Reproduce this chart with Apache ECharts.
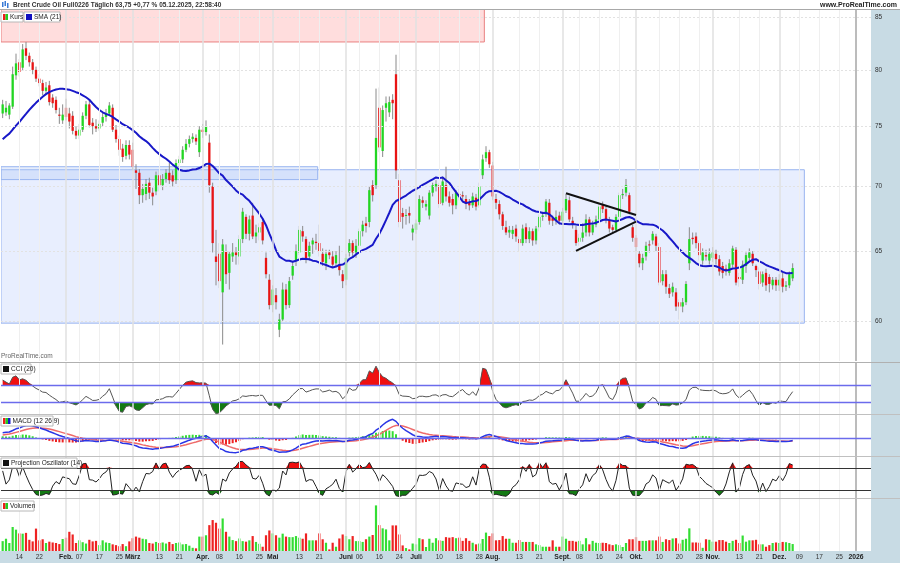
<!DOCTYPE html>
<html><head><meta charset="utf-8">
<script src="https://cdn.jsdelivr.net/npm/echarts@6/dist/echarts.min.js"></script>
<style>html,body{margin:0;padding:0;background:#fff}#c{width:900px;height:563px}</style>
</head><body><div id="c"></div><script>
// ---------- DATA ----------
const holidays = ['2025-04-18'];
const tickDates = ['2025-01-14','2025-01-22','2025-02-03','2025-02-07','2025-02-17','2025-02-25','2025-03-03','2025-03-13','2025-03-21','2025-04-01','2025-04-08','2025-04-16','2025-04-25','2025-05-01','2025-05-13','2025-05-21','2025-06-02','2025-06-06','2025-06-16','2025-06-24','2025-07-01','2025-07-10','2025-07-18','2025-07-28','2025-08-01','2025-08-13','2025-08-21','2025-09-01','2025-09-08','2025-09-16','2025-09-24','2025-10-01','2025-10-10','2025-10-20','2025-10-28','2025-11-03','2025-11-13','2025-11-21','2025-12-01','2025-12-09','2025-12-17','2025-12-25','2026-01-01'];
const tickTexts = ['14','22','Feb.','07','17','25','März','13','21','Apr.','08','16','25','Mai','13','21','Juni','06','16','24','Juli','10','18','28','Aug.','13','21','Sept.','08','16','24','Okt.','10','20','28','Nov.','13','21','Dez.','09','17','25','2026'];
// closes before the first shown day (indicator warm-up, Nov/Dec 2024)
const warmupCloses = [71.83,71.89,72.28,72.56,71.04,73.30,73.31,72.81,74.23,75.17,73.01,72.81,72.83,73.28,72.94,71.83,73.62,72.31,72.09,71.12,72.14,72.19,73.52,73.41,74.49,73.91,73.19,73.39,72.88,72.94,72.63,73.58,73.26,74.17,74.39,74.64,75.93,76.51,76.30];
const opens = [76.1,76.2,76.0,76.7,79.5,80.7,80.2,82.0,81.3,80.7,80.0,79.2,78.8,78.1,78.6,77.5,77.3,76.0,75.5,76.6,76.1,75.9,74.6,74.2,74.7,75.9,76.9,75.3,75.0,74.8,75.3,75.8,76.1,76.6,74.7,73.9,73.1,72.5,73.4,73.0,71.3,71.1,69.3,69.4,70.3,69.5,69.6,70.9,70.1,70.6,71.1,70.9,70.5,71.9,72.2,73.0,73.5,73.9,74.0,72.8,74.7,74.5,73.6,70.0,64.6,64.8,62.0,65.0,63.4,64.6,64.9,64.6,65.9,67.6,66.3,67.7,66.1,66.4,67.2,64.5,62.9,61.1,61.8,59.4,60.1,62.2,61.1,63.2,64.3,64.9,66.5,65.9,64.6,65.5,65.7,65.6,64.8,64.1,64.9,64.6,64.1,64.0,63.3,62.9,64.9,65.6,64.9,65.4,66.5,67.1,67.2,70.1,70.1,76.6,72.9,76.6,76.2,77.3,79.6,70.5,67.9,67.7,67.9,66.4,66.6,67.2,68.9,68.4,67.7,69.5,70.0,70.1,68.7,70.1,69.2,69.0,68.5,69.4,69.3,69.0,68.7,68.5,69.1,68.5,70.9,72.3,72.8,71.7,69.0,68.6,67.8,66.8,66.4,66.3,66.7,65.9,65.6,66.8,65.9,66.5,65.8,66.8,67.6,67.8,68.7,67.5,67.3,67.7,67.3,68.1,68.9,67.3,66.6,65.7,66.0,66.4,67.4,66.4,67.0,67.4,68.5,68.2,67.4,66.8,66.6,67.6,69.3,69.5,69.3,66.8,66.0,64.8,64.1,64.6,65.5,65.8,66.1,65.3,62.8,63.3,62.3,62.0,62.0,61.3,61.0,61.3,64.1,66.0,66.1,65.6,64.3,64.7,64.3,64.5,64.8,64.4,63.9,63.7,63.4,64.0,65.1,63.1,62.9,63.9,64.5,64.8,63.9,63.5,62.7,63.4,63.1,62.5,62.9,62.5,63.0,62.4,62.5,63.0];
const closes = [76.9,76.6,76.8,79.6,80.6,79.8,81.9,81.3,80.7,80.0,79.2,78.8,78.1,78.4,77.1,77.0,76.4,75.9,76.0,75.8,75.4,74.6,74.2,74.7,75.9,76.9,75.1,75.0,74.8,75.2,75.8,76.1,76.8,74.7,73.9,73.0,72.4,73.4,72.6,71.6,71.1,69.3,69.8,70.2,69.5,69.2,70.9,70.1,70.6,71.1,70.5,70.4,71.9,72.2,73.0,73.5,73.9,74.1,73.7,74.7,74.5,75.0,70.1,65.6,64.2,62.8,65.5,63.3,64.8,64.9,64.7,65.9,68.0,66.3,67.4,66.1,66.4,66.8,65.8,63.3,61.1,62.2,61.3,60.1,62.2,61.1,62.8,63.9,65.0,66.6,66.1,64.4,65.4,65.8,65.6,65.0,64.2,64.8,64.7,64.0,64.7,63.6,62.8,64.5,65.6,64.9,65.4,66.5,67.0,66.9,69.7,69.3,74.0,73.2,76.4,77.0,77.1,77.0,71.3,67.2,67.6,67.75,67.7,66.7,67.1,69.0,68.7,68.6,69.5,70.1,70.2,68.6,70.4,69.2,68.7,68.5,69.5,69.3,69.2,68.6,68.5,69.2,68.4,70.0,72.2,72.8,71.8,69.2,68.7,67.8,66.9,66.4,66.6,66.6,66.1,65.6,66.7,65.9,66.5,65.8,66.7,67.6,67.7,68.8,67.3,67.3,67.6,67.3,68.0,69.0,67.4,67.0,65.6,66.0,66.4,67.4,66.4,67.0,67.4,68.4,68.2,67.4,66.7,66.6,67.6,69.3,69.4,70.1,68.0,66.0,65.3,64.1,64.5,65.4,65.45,66.3,65.4,62.7,63.3,62.4,61.9,62.4,61.0,61.0,61.3,62.6,65.9,65.9,65.6,64.7,64.9,64.6,64.8,64.9,64.4,63.5,63.4,63.6,64.1,65.2,62.7,62.95,64.0,64.7,64.9,64.1,63.6,62.6,63.3,62.5,62.6,62.9,62.5,62.9,62.4,62.5,63.3,63.75];
const lows = [75.7,75.9,75.6,76.5,79.1,79.4,79.9,80.9,80.3,79.6,78.9,78.5,77.7,77.8,76.8,76.6,76.1,75.2,75.2,75.5,74.8,74.3,73.9,73.9,74.5,75.6,74.9,74.3,74.5,74.6,75.0,75.4,75.9,74.5,73.6,72.5,72.0,72.2,72.2,71.3,69.8,68.6,68.7,68.9,69.0,68.5,69.3,69.6,69.7,70.3,70.2,70.0,70.2,71.6,71.9,72.8,73.2,73.6,73.4,72.4,74.0,74.2,69.5,64.9,62.5,62.3,58.4,62.6,62.2,64.2,64.0,64.0,65.6,65.9,65.8,65.9,65.6,65.8,65.5,63.0,60.8,60.6,60.8,58.9,60.0,60.8,60.9,62.9,63.9,64.7,65.7,64.1,64.3,64.8,65.1,64.6,63.9,63.6,64.4,63.8,63.8,63.2,62.3,62.5,64.6,64.6,64.5,65.1,66.1,66.4,66.8,68.8,69.8,72.8,72.4,75.4,75.8,75.6,70.6,66.8,66.7,67.0,67.1,65.8,66.3,67.0,68.3,68.1,67.4,69.2,69.6,68.3,68.5,68.8,68.4,67.8,68.2,68.9,68.8,68.2,68.1,68.3,68.1,68.3,70.6,72.0,71.5,68.9,68.2,67.4,66.6,66.2,66.0,65.9,65.7,65.0,65.4,65.6,65.6,65.4,65.5,66.5,67.3,67.6,67.0,66.9,67.0,67.0,67.1,67.9,67.2,66.7,65.4,65.4,65.7,66.1,66.1,66.2,66.8,67.2,67.9,67.1,66.4,66.3,66.4,67.4,69.0,69.2,67.8,65.7,65.0,63.8,63.6,64.3,64.9,65.5,65.0,62.5,62.5,61.9,61.6,61.7,60.7,60.1,60.6,61.1,63.6,65.5,65.2,64.3,64.0,64.3,64.0,64.2,64.0,63.2,63.0,63.2,63.2,63.8,62.5,62.4,62.6,63.4,64.2,63.9,63.1,62.2,62.4,62.1,62.0,62.2,62.1,62.1,62.0,62.1,62.3,62.8];
const highs = [77.3,77.2,77.0,80.3,81.5,81.0,82.4,82.6,81.6,81.0,80.3,79.6,79.1,78.9,79.0,77.8,77.6,76.6,76.9,77.4,76.6,76.3,75.0,75.2,76.2,77.2,77.3,75.7,75.6,75.5,76.2,76.5,77.1,76.9,75.1,74.2,73.5,73.8,73.8,73.6,71.8,71.4,70.2,70.6,70.7,69.9,71.2,71.3,71.0,71.4,71.9,71.3,72.2,72.5,73.3,73.9,74.2,74.4,74.3,75.0,75.2,75.5,74.3,70.3,66.6,65.6,65.9,65.5,65.0,65.6,65.3,66.2,68.3,67.8,67.7,68.7,67.0,67.1,67.5,64.9,63.3,62.5,62.3,60.5,62.7,62.6,63.1,64.2,65.5,66.9,66.9,66.1,65.7,66.0,66.3,67.0,65.2,65.1,65.1,65.0,65.0,65.4,63.6,64.8,65.9,65.8,65.9,66.7,67.3,67.6,70.0,70.5,78.3,78.4,76.8,77.6,77.6,77.8,81.4,71.0,68.3,68.2,68.4,67.0,67.4,69.3,69.2,68.9,69.7,70.3,70.5,70.3,70.8,71.6,69.6,69.4,69.7,69.8,69.6,69.3,69.0,69.5,69.4,70.3,72.6,73.3,73.0,72.0,69.4,68.9,68.0,67.3,66.9,66.9,67.0,66.1,67.0,67.1,66.8,66.7,66.9,67.8,68.0,69.0,69.0,67.7,68.1,68.0,68.3,69.4,69.2,67.6,66.9,66.3,67.1,67.8,67.6,67.3,67.7,68.7,68.8,68.5,67.6,67.0,67.8,69.5,69.8,70.6,69.5,67.0,66.2,65.0,64.8,65.7,65.8,66.5,66.3,65.6,63.6,63.6,62.6,62.7,62.3,61.5,61.6,62.8,66.8,66.4,66.4,65.8,65.2,65.1,65.2,65.3,65.1,64.7,64.2,64.0,64.4,65.4,65.3,63.4,64.3,64.9,65.2,65.0,64.0,63.8,63.5,63.7,63.3,63.1,63.1,63.3,63.4,62.8,63.5,64.1];
const volumesK = [37,46,30,90,80,66,65,68,42,36,84,40,44,30,35,32,30,26,45,50,72,62,30,40,33,28,42,36,38,22,40,32,30,25,22,18,26,18,36,48,54,50,46,44,30,28,34,30,32,28,34,26,30,32,25,26,20,
12,10,54,54,59,97,116,106,84,122,72,54,41,37,47,37,35,40,56,34,27,16,59,77,66,59,50,65,54,52,52,56,50,46,66,40,40,40,66,44,31,6,31,16,47,62,56,44,56,37,37,34,44,54,60,171,97,85,81,40,96,96,62,21,11,6,28,25,48,44,15,46,31,48,
40,38,52,50,52,48,50,38,48,38,31,25,28,45,69,56,66,40,41,56,46,46,31,31,41,34,34,34,34,25,22,16,16,16,40,16,16,54,46,38,38,35,38,25,48,25,38,31,30,
31,30,25,22,25,22,15,30,44,44,52,38,38,38,40,40,40,54,34,44,41,47,48,28,42,46,85,32,32,31,12,44,42,35,35,41,41,35,30,38,42,30,58,35,40,40,42,25,25,16,22,30,32,30,34,33,30,26.105];
// zones: [startDate, endDate] and [lowPrice, highPrice]
const zoneDates = [['2025-01-07','2025-07-29'],['2025-01-07','2025-12-10'],['2025-01-07','2025-05-20']];
const zonePrices = [[82.6,90],[59.85,71.35],[70.55,71.6]];
// triangle lines: [date1, price1, date2, price2]
const triLines = [['2025-09-02',69.46,'2025-10-01',67.75],['2025-09-05',65.01,'2025-10-01',67.24]];
const priceTicks = [60,65,70,75,80,85];
const lastTags = {price:63.75, sma:63.386, cci:34.21, macdHist:0.0793, macd:-0.2976, signal:-0.3779, po:83.547, vol:26.105};

// ---------- BUILD ----------
function weekdays(a,b,skip){const out=[];const d=new Date(a+'T00:00:00Z');const e=new Date(b+'T00:00:00Z');while(d<=e){const w=d.getUTCDay();const s=d.toISOString().slice(0,10);if(w!==0&&w!==6&&!skip.includes(s))out.push(s);d.setUTCDate(d.getUTCDate()+1);}return out;}
const cats = weekdays('2025-01-07','2026-01-07',holidays);
const N = closes.length, M = cats.length, W = warmupCloses.length;
const pad = a => { const r = a.slice(); while (r.length < M) r.push(null); return r; };
const fmt = (v,d) => v.toFixed(d).replace('.',',');

// indicators computed from the price series (with warm-up)
const C = warmupCloses.concat(closes), H = warmupCloses.concat(highs), L = warmupCloses.concat(lows);
function smaF(a,n){const o=a.map(()=>null);let s=0;for(let i=0;i<a.length;i++){s+=a[i];if(i>=n)s-=a[i-n];if(i>=n-1)o[i]=s/n;}return o;}
function emaF(a,n){const k=2/(n+1);const o=[];let e=a[0];for(let i=0;i<a.length;i++){e=i===0?a[0]:a[i]*k+e*(1-k);o.push(e);}return o;}
const smaAll = smaF(C,21);
const e12 = emaF(C,12), e26 = emaF(C,26);
const macdAll = e12.map((v,i)=>v-e26[i]);
const sigAll = emaF(macdAll,9);
const tp = C.map((c,i)=>(H[i]+L[i]+c)/3);
const cciAll = tp.map((v,i)=>{ if(i<19) return null; let m=0; for(let j=i-19;j<=i;j++) m+=tp[j]; m/=20; let md=0; for(let j=i-19;j<=i;j++) md+=Math.abs(tp[j]-m); md/=20; return md===0?0:(v-m)/(0.015*md); });
function slope(v){const n=v.length;let sx=0,sy=0,sxy=0,sxx=0;for(let j=0;j<n;j++){sx+=j;sy+=v[j];sxy+=j*v[j];sxx+=j*j;}return (n*sxy-sx*sy)/(n*sxx-sx*sx);}
const poAll = C.map((c,i)=>{ if(i<13) return null; const hs=H.slice(i-13,i+1), ls=L.slice(i-13,i+1); const mh=slope(hs), ml=slope(ls); let pu=-1e9, pl=1e9; for(let k=0;k<14;k++){ pu=Math.max(pu,H[i-k]+k*mh); pl=Math.min(pl,L[i-k]+k*ml);} return pu===pl?50:100*(c-pl)/(pu-pl); });
const cut = a => pad(a.slice(W));
const sma = cut(smaAll), macd = cut(macdAll), sig = cut(sigAll), hist = cut(macdAll.map((v,i)=>v-sigAll[i])), cci = cut(cciAll), po = cut(poAll);

const GREEN='#22d622', RED='#e81414';
const candleData = closes.map((c,i)=>[i, opens[i], c, lows[i], highs[i]]);
const volData = pad(volumesK.map((v,i)=>({value:v, itemStyle:{color: closes[i]>=opens[i]? '#33dd33':'#ee2222'}})));

// vertical grid lines (through category axis)
function vLines(){ return tickDates.map((d,k)=>{ const t=tickTexts[k]; const year=t==='2026'; const month=isNaN(Number(t));
  return {xAxis:d, lineStyle:{color: year?'#bcbcbc':(month?'#e0e0e0':'#efefef'), width: year?2:(month?1.5:1), type:'solid'}, label:{show:false}}; }); }
const FF = 'Liberation Sans, Arial, sans-serif';
const axLab = {show:true, position:'end', distance:4, color:'#333', fontSize:6.5, fontFamily:FF};
function hLab(v, text, visible, extra){ return Object.assign({yAxis:v, lineStyle: visible? visible : {opacity:0}, label:Object.assign({}, axLab, {formatter:text})}, extra||{}); }
function tag(v, text, color, bg, dy){ return {yAxis:v, lineStyle:{opacity:0}, label:Object.assign({}, axLab, {formatter:text, color:color, backgroundColor:bg, padding:[1,1,0,1], offset:[0,dy||0], distance:2})}; }
const ML = (data) => ({symbol:'none', silent:true, animation:false, precision:4, data:data});

function bandFill(vals, thr, dir, color, ax, name){
  const base = vals.map(v=>v==null?null:thr);
  const ext = vals.map(v=>v==null?null:(dir>0?Math.max(v-thr,0):Math.min(v-thr,0)));
  const common = {type:'line', xAxisIndex:ax, yAxisIndex:ax, stack:name, stackStrategy:'all', symbol:'none', silent:true, z:1, lineStyle:{width:0,opacity:0}};
  return [Object.assign({}, common, {data:base}), Object.assign({}, common, {data:ext, areaStyle:{color:color, opacity:1}})];
}

const grids = [
  {left:1, width:870, top:10, height:351},
  {left:1, width:870, top:363, height:51},
  {left:1, width:870, top:415, height:41},
  {left:1, width:870, top:457, height:41},
  {left:1, width:870, top:499, height:52}
];
const xAxes = grids.map((g,k)=>({type:'category', gridIndex:k, data:cats, boundaryGap:true,
  axisLine:{show:false}, axisTick:{show:false}, splitLine:{show:false},
  axisLabel: k===4 ? {show:true, interval:(i)=>tickDates.includes(cats[i]), margin:3, fontSize:6.5, color:'#333', fontFamily:FF,
     formatter:(v)=>{ const t=tickTexts[tickDates.indexOf(v)]; return (isNaN(Number(t)) || t==='2026') ? '{b|'+t+'}' : t; },
     rich:{b:{fontWeight:'bold', fontSize:6.8, color:'#222', fontFamily:FF}}} : {show:false}
}));
const yBase = {position:'right', axisLine:{show:false}, axisTick:{show:false}, axisLabel:{show:false}, splitLine:{show:false}};
const yAxes = [
  Object.assign({type:'log', logBase:10, gridIndex:0, min:57.31, max:85.68}, yBase),
  Object.assign({type:'value', gridIndex:1, min:-241, max:358.8}, yBase),
  Object.assign({type:'value', gridIndex:2, min:-2.8, max:3.76}, yBase),
  Object.assign({type:'value', gridIndex:3, min:-1.8, max:110}, yBase),
  Object.assign({type:'value', gridIndex:4, min:0, max:195}, yBase)
];

const series = [];
// zones
series.push({type:'custom', xAxisIndex:0, yAxisIndex:0, clip:true, z:1, silent:true,
  data: zoneDates.map((d,k)=>[cats.indexOf(d[0]), cats.indexOf(d[1]), zonePrices[k][0], zonePrices[k][1], k]),
  encode:{x:[0,1], y:[2,3]},
  renderItem:(p,api)=>{ const a=api.coord([api.value(0),api.value(2)]), b=api.coord([api.value(1),api.value(3)]);
    const bw = api.size([1,0])[0]; const k=api.value(4);
    const x0=a[0]-bw/2, x1=b[0]+bw/2;
    const st = k===0 ? {fill:'rgba(255,175,175,0.42)', stroke:'#e98080', lineWidth:1}
             : k===1 ? {fill:'rgba(200,215,252,0.42)', stroke:'#98b4f0', lineWidth:1}
             : {fill:'rgba(175,200,245,0.32)', stroke:'#9ab6f0', lineWidth:1};
    return {type:'rect', shape:{x:x0, y:Math.min(a[1],b[1]), width:x1-x0, height:Math.abs(a[1]-b[1])}, style:st}; }
});
// candles
series.push({type:'custom', xAxisIndex:0, yAxisIndex:0, clip:true, z:3, silent:true, data:candleData,
  encode:{x:0, y:[1,2,3,4]},
  renderItem:(p,api)=>{ const i=api.value(0), o=api.value(1), c=api.value(2), l=api.value(3), h=api.value(4);
    const po_=api.coord([i,o]), pc=api.coord([i,c]), pl=api.coord([i,l]), ph=api.coord([i,h]);
    const x=po_[0], w=2.3, top=Math.min(po_[1],pc[1]), bot=Math.max(po_[1],pc[1]);
    return {type:'group', children:[
      {type:'line', shape:{x1:x,y1:ph[1],x2:x,y2:pl[1]}, style:{stroke:'#8a8a8a', lineWidth:1}},
      {type:'rect', shape:{x:x-w/2, y:top, width:w, height:Math.max(bot-top,1)}, style:{fill: c>=o?GREEN:RED}}
    ]}; }
});
// SMA + main grid lines/labels
series.push({type:'line', name:'SMA', xAxisIndex:0, yAxisIndex:0, data:sma, symbol:'none', z:4, silent:true,
  lineStyle:{color:'#1818c8', width:2},
  markLine: ML(vLines().concat(priceTicks.map(v=>hLab(v, String(v), {color:'#e2e2e2', type:[2,2], width:1})))
    .concat([tag(lastTags.price, fmt(lastTags.price,2), '#111', '#f6d500', -1), tag(lastTags.sma, fmt(lastTags.sma,3), '#2020d0', '#ffffff', 2)]))
});
// triangle
series.push({type:'custom', xAxisIndex:0, yAxisIndex:0, z:5, silent:true,
  data: triLines.map(t=>[cats.indexOf(t[0]), t[1], cats.indexOf(t[2]), t[3]]), encode:{x:[0,2], y:[1,3]},
  renderItem:(p,api)=>{ const a=api.coord([api.value(0),api.value(1)]), b=api.coord([api.value(2),api.value(3)]);
    return {type:'line', shape:{x1:a[0],y1:a[1],x2:b[0],y2:b[1]}, style:{stroke:'#111', lineWidth:2}}; }
});
// CCI
series.push(...bandFill(cci, 100, 1, '#f01010', 1, 'cciU'));
series.push(...bandFill(cci, -100, -1, '#137a13', 1, 'cciD'));
series.push({type:'line', xAxisIndex:1, yAxisIndex:1, data:cci, symbol:'none', z:3, silent:true, lineStyle:{color:'#555', width:1},
  markLine: ML(vLines().concat([
    hLab(100, '', {color:'#6b6bec', width:1.3, type:'solid'}, {label:{show:false}}),
    hLab(-100, '', {color:'#6b6bec', width:1.3, type:'solid'}, {label:{show:false}}),
    hLab(200, '200'), hLab(-200, '-200'),
    tag(lastTags.cci, fmt(lastTags.cci,3), '#222', '#ffffff', 0)]))
});
// MACD
series.push({type:'bar', xAxisIndex:2, yAxisIndex:2, data:hist, barWidth:2, silent:true, z:2,
  itemStyle:{color:(p)=> p.value>=0 ? '#33dd33' : '#ee2222'}});
series.push({type:'line', xAxisIndex:2, yAxisIndex:2, data:sig, symbol:'none', z:3, silent:true, lineStyle:{color:'#ee6a6a', width:1.5}});
series.push({type:'line', xAxisIndex:2, yAxisIndex:2, data:macd, symbol:'none', z:4, silent:true, lineStyle:{color:'#2a36e6', width:1.5},
  markLine: ML(vLines().concat([
    hLab(0, '', {color:'#6b6bec', width:1.3, type:'solid'}, {label:{show:false}}),
    hLab(2, '2'), hLab(-2, '-2'),
    tag(lastTags.macdHist, fmt(lastTags.macdHist,4), '#19b019', '#f0fff0', -3),
    tag(lastTags.macd, fmt(lastTags.macd,4), '#2a36e6', '#ffffff', 0),
    tag(lastTags.signal, fmt(lastTags.signal,4), '#e04a4a', '#ffffff', 4)]))
});
// Projection oscillator
series.push(...bandFill(po, 80, 1, '#f01010', 3, 'poU'));
series.push(...bandFill(po, 20, -1, '#137a13', 3, 'poD'));
series.push({type:'line', xAxisIndex:3, yAxisIndex:3, data:po, symbol:'none', z:3, silent:true, lineStyle:{color:'#222', width:1},
  markLine: ML(vLines().concat([
    hLab(80, '', {color:'#333', width:1, type:'solid'}, {label:{show:false}}),
    hLab(20, '', {color:'#333', width:1, type:'solid'}, {label:{show:false}}),
    hLab(100, '100'), hLab(50, '50'), hLab(0, '0'),
    hLab(80, '80', {opacity:0}, {label:Object.assign({}, axLab, {formatter:'80', offset:[0,2]})}),
    hLab(20, '20', {opacity:0}),
    tag(lastTags.po, fmt(lastTags.po,3), '#222', '#ffffff', -2)]))
});
// Volume
series.push({type:'bar', xAxisIndex:4, yAxisIndex:4, data:volData, barWidth:2.2, silent:true, z:2,
  markLine: ML(vLines().concat([
    hLab(150, '150.000'), hLab(100, '100.000'), hLab(50, '50.000'), hLab(0, '0'),
    tag(lastTags.vol, lastTags.vol.toFixed(3), '#19b019', '#f0fff0', 0)]))
});

// ---------- decorations (text) ----------
const ZT = 200;
function box(x,y,w,label,icons){ const ch=[{type:'rect', z:ZT, shape:{x:x,y:y,width:w,height:10}, style:{fill:'#fff', stroke:'#b8b8b8', lineWidth:1}}];
  icons.forEach((c,k)=>ch.push({type:'rect', z:ZT+1, shape:{x:x+2+k*2.5, y:y+2, width:(icons.length>1?2.5:6), height:6}, style:{fill:c}}));
  ch.push({type:'text', z:ZT+1, x:x+(icons.length>1? 4+icons.length*2.5 : 10), y:y+1.8, style:{text:label, fill:'#222', font:'6.5px '+FF}});
  return {type:'group', children:ch}; }
const graphic = [
  {type:'rect', z:-10, silent:true, shape:{x:871,y:10,width:29,height:541}, style:{fill:'#c8dbe4'}},
  {type:'rect', z:-10, silent:true, shape:{x:0,y:551,width:900,height:12}, style:{fill:'#c8dbe4'}},
  {type:'line', z:-5, shape:{x1:0,y1:9.5,x2:900,y2:9.5}, style:{stroke:'#a8a8a8', lineWidth:1}},
  {type:'line', z:-5, shape:{x1:0,y1:362.5,x2:900,y2:362.5}, style:{stroke:'#b0b0b0', lineWidth:1}},
  {type:'line', z:-5, shape:{x1:0,y1:414.5,x2:900,y2:414.5}, style:{stroke:'#c0c0c0', lineWidth:1}},
  {type:'line', z:-5, shape:{x1:0,y1:456.5,x2:900,y2:456.5}, style:{stroke:'#c0c0c0', lineWidth:1}},
  {type:'line', z:-5, shape:{x1:0,y1:498.5,x2:900,y2:498.5}, style:{stroke:'#c0c0c0', lineWidth:1}},
  {type:'text', z:ZT, x:13, y:2, style:{text:'Brent Crude Oil Full0226 Täglich 63,75 +0,77 % 05.12.2025, 22:58:40', fill:'#333', font:'bold 6.5px '+FF}},
  {type:'text', z:ZT, x:897, y:2, style:{text:'www.ProRealTime.com', fill:'#222', font:'bold 7px '+FF, textAlign:'right'}},
  {type:'rect', z:ZT, shape:{x:2,y:2,width:1.5,height:5}, style:{fill:'#3a7bd5'}},
  {type:'rect', z:ZT, shape:{x:4.5,y:1,width:1.5,height:5}, style:{fill:'#3a7bd5'}},
  {type:'rect', z:ZT, shape:{x:7,y:3,width:1.5,height:5}, style:{fill:'#3a7bd5'}},
  box(1,12,22,'Kurs',['#ee1c1c','#22cc22']),
  box(24,12,36,'SMA (21)',['#1010c0']),
  {type:'text', z:ZT, x:1, y:353, style:{text:'ProRealTime.com', fill:'#666', font:'6.5px '+FF}},
  box(1,364,30,'CCI (20)',['#111111']),
  box(1,416,52,'MACD (12 26 9)',['#ee1c1c','#22cc22','#1818c8']),
  box(1,458,76,'Projection Oszillator (14)',['#111111']),
  box(1,501,33,'Volumen',['#ee1c1c','#22cc22'])
];

const chart = echarts.init(document.getElementById('c'), null, {renderer:'canvas'});
chart.setOption({animation:false, backgroundColor:'#ffffff', textStyle:{fontFamily:FF},
  grid:grids, xAxis:xAxes, yAxis:yAxes, series:series, graphic:graphic});
</script></body></html>
